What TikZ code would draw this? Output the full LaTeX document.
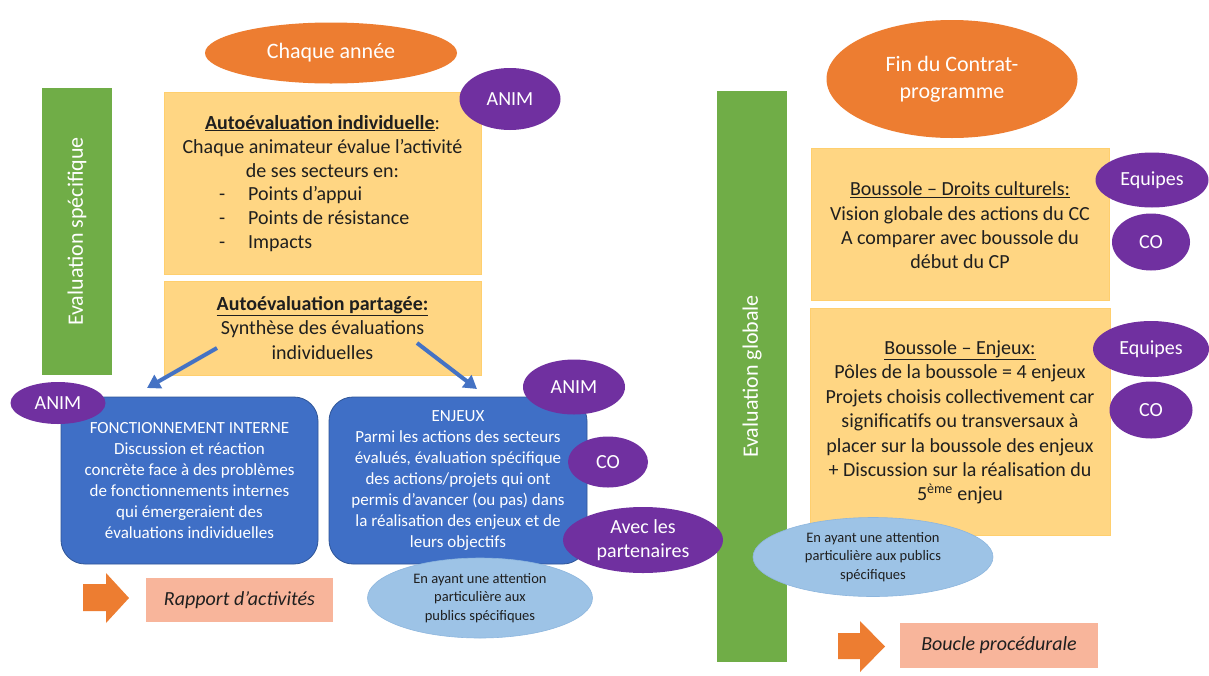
\documentclass[tikz,border=0pt]{standalone}
\usepackage{fontspec}
\setmainfont{Carlito}
\usetikzlibrary{shapes.geometric,arrows.meta}
\definecolor{orangeA}{HTML}{ED7D31}
\definecolor{yellowA}{HTML}{FFD683}
\definecolor{yellowB}{HTML}{FFCF6E}
\definecolor{greenA}{HTML}{70AD47}
\definecolor{purpleA}{HTML}{7030A0}
\definecolor{blueA}{HTML}{3F6FC6}
\definecolor{blueB}{HTML}{2F5597}
\definecolor{arrowblue}{HTML}{4472C4}
\definecolor{lightblueA}{HTML}{9DC3E6}
\definecolor{lightblueB}{HTML}{8DB6DE}
\definecolor{salmonA}{HTML}{F8B59B}
\definecolor{textA}{HTML}{1F1F1F}
\begin{document}
\begin{tikzpicture}[x=1pt,y=-1pt,
  greenbar/.style={fill=greenA, draw=none, minimum width=70pt, inner sep=0pt},
  bartext/.style={rotate=90, text=white, font=\fontsize{22}{26}\selectfont},
  ybox/.style={fill=yellowA, draw=yellowB, line width=0.6pt, inner sep=0pt},
  ytext/.style={text=textA, align=center, inner sep=0pt, font=\fontsize{20}{24.4}\selectfont},
  bbox/.style={fill=blueA, draw=blueB, line width=0.8pt, rounded corners=24pt, inner sep=0pt,
     text=white, align=center, font=\fontsize{17}{21}\selectfont},
  oval/.style={ellipse, inner sep=0pt, align=center},
  orangeoval/.style={oval, fill=orangeA, draw=none, text=white, font=\fontsize{22}{27}\selectfont},
  purpleoval/.style={oval, fill=purpleA, draw=none, text=white, font=\fontsize{20}{24.4}\selectfont},
  lightoval/.style={oval, fill=lightblueA, draw=lightblueB, line width=0.6pt, text=textA, font=\fontsize{14.5}{18.5}\selectfont},
  salmonbox/.style={fill=salmonA, draw=none, inner sep=0pt, text=textA, font=\fontsize{20}{24}\selectfont\itshape},
  bluearrow/.style={draw=arrowblue, line width=4pt, -{Triangle[length=13pt,width=15pt]}},
  blockarrow/.style={fill=orangeA, draw=none}
]
\useasboundingbox (0,0) rectangle (1209,675);
\fill[white] (0,0) rectangle (1209,675);

% ---------- left part ----------
\node[greenbar, minimum height=287pt] (g1) at (77,231.5) {};
\node[bartext] (g1t) at (g1.center) {Evaluation spécifique};

\node[orangeoval, minimum width=252pt, minimum height=61pt] (chaque) at (331,53) {Chaque année};

\node[ybox, minimum width=317pt, minimum height=182pt] (y1) at (322.5,183) {};
\node[ytext] (y1t) at (322.5,146.5) {\underline{\textbf{Autoévaluation individuelle}}:\\Chaque animateur évalue l’activité\\de ses secteurs en:};
\node[ytext, align=left, anchor=west] (y1b) at (219,219) {\makebox[29pt][l]{-}Points d’appui\\\makebox[29pt][l]{-}Points de résistance\\\makebox[29pt][l]{-}Impacts};

\node[ybox, minimum width=317pt, minimum height=94pt] (y2) at (322.5,328) {};
\node[ytext] (y2t) at (322.5,328) {\underline{\textbf{Autoévaluation partagée:}}\\Synthèse des évaluations\\individuelles};

\node[purpleoval, minimum width=101pt, minimum height=62pt] (anim1) at (510,99) {ANIM};

\coordinate (a1s) at (217,348);
\coordinate (a1e) at (147,388);
\coordinate (a2s) at (417,343);
\coordinate (a2e) at (477,389);
\draw[bluearrow] (a1s) -- (a1e);
\draw[bluearrow] (a2s) -- (a2e);

\node[bbox, minimum width=257pt, minimum height=167pt] (b1) at (189.5,480.5) {FONCTIONNEMENT INTERNE\\Discussion et réaction\\concrète face à des problèmes\\de fonctionnements internes\\qui émergeraient des\\évaluations individuelles};
\node[purpleoval, minimum width=95pt, minimum height=42pt] (anim2) at (58,403) {ANIM};

\node[bbox, minimum width=258pt, minimum height=167pt] (b2) at (458,480.5) {ENJEUX\\Parmi les actions des secteurs\\évalués, évaluation spécifique\\des actions/projets qui ont\\permis d’avancer (ou pas) dans\\la réalisation des enjeux et de\\leurs objectifs};
\node[purpleoval, minimum width=102pt, minimum height=55pt] (anim3) at (574,387) {ANIM};
\node[purpleoval, minimum width=80pt, minimum height=51pt] (co1) at (608,462) {CO};
\node[lightoval, minimum width=225pt, minimum height=80pt] (lb1) at (480,598) {En ayant une attention\\particulière aux\\publics spécifiques};

% block arrow left
\fill[blockarrow] (83,584) -- (106,584) -- (106,573) -- (129,598) -- (106,623) -- (106,611) -- (83,611) -- cycle;
\node[salmonbox, minimum width=187pt, minimum height=44pt] (rapport) at (239.5,600) {Rapport d’activités};

% ---------- right part ----------
\node[greenbar, minimum height=571pt] (g2) at (752,376.5) {};
\node[bartext] (g2t) at (g2.center) {Evaluation globale};

\node[purpleoval, minimum width=160pt, minimum height=66pt] (avec) at (643,540) {Avec les\\partenaires};

\node[orangeoval, minimum width=251pt, minimum height=118pt] (fin) at (952,79) {Fin du Contrat-\\programme};

\node[ybox, minimum width=298pt, minimum height=152pt] (y3) at (960,224) {};
\node[ytext] (y3t) at (960,225.5) {\underline{Boussole – Droits culturels:}\\Vision globale des actions du CC\\A comparer avec boussole du\\début du CP};

\node[ybox, minimum width=300pt, minimum height=227pt] (y4) at (960,421.5) {};
\node[ytext] (y4t) at (960,422.5) {\underline{Boussole – Enjeux:}\\Pôles de la boussole = 4 enjeux\\Projets choisis collectivement car\\significatifs ou transversaux à\\placer sur la boussole des enjeux\\+ Discussion sur la réalisation du\\5\textsuperscript{ème} enjeu};

\node[purpleoval, minimum width=113pt, minimum height=55pt] (equ1) at (1152,180) {Equipes};
\node[purpleoval, minimum width=78pt, minimum height=57pt] (co2) at (1151,242) {CO};
\node[purpleoval, minimum width=116pt, minimum height=56pt] (equ2) at (1151,349) {Equipes};
\node[purpleoval, minimum width=83pt, minimum height=57pt] (co3) at (1151,410) {CO};

\node[lightoval, minimum width=240pt, minimum height=79pt] (lb2) at (873,557) {En ayant une attention\\particulière aux publics\\spécifiques};

% block arrow right
\fill[blockarrow] (838,633) -- (860,633) -- (860,621) -- (885,646.5) -- (860,672) -- (860,659) -- (838,659) -- cycle;
\node[salmonbox, minimum width=198pt, minimum height=45pt] (boucle) at (999,645.5) {Boucle procédurale};
\end{tikzpicture}
\end{document}
